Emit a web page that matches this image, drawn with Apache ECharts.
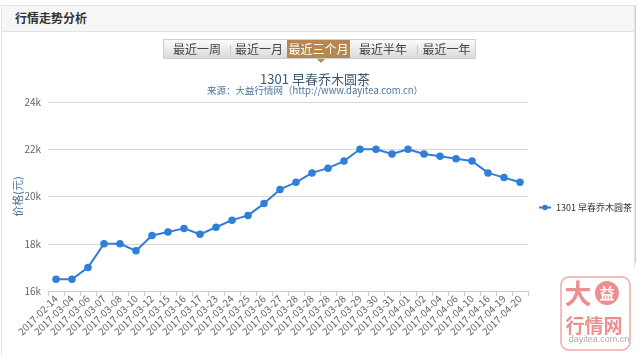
<!DOCTYPE html>
<html>
<head>
<meta charset="utf-8">
<script src="https://cdn.jsdelivr.net/npm/echarts@6/dist/echarts.min.js"></script>
<style>
html,body{margin:0;padding:0;background:#fff;width:640px;height:356px;overflow:hidden;font-family:"Noto Sans CJK SC","Noto Sans",sans-serif;}
#card{position:absolute;left:1px;top:5px;width:634px;height:360px;border:1px solid #e3e3e3;border-bottom:none;box-sizing:border-box;}
#head{position:absolute;left:0;top:0;right:0;height:25px;background:#f6f6f6;border-bottom:1px solid #e3e3e3;}
#head span{position:absolute;left:13px;top:4px;font-size:12px;font-weight:bold;color:#333;line-height:16px;}
#chart{position:absolute;left:0;top:0;width:640px;height:356px;}
#btns{position:absolute;left:163px;top:39px;width:313px;height:20px;border:1px solid #cfcfcf;box-sizing:border-box;background:linear-gradient(#fbfbfb,#dadada);}
.b{position:absolute;top:0;height:18px;line-height:18px;font-size:12px;color:#444;text-align:center;}
.sel{background:#b8874f;color:#fff;}
.sep{position:absolute;top:5px;width:1px;height:10px;background:#c8c8c8;}
#tri{position:absolute;left:317px;top:59px;width:0;height:0;border-left:4px solid transparent;border-right:4px solid transparent;border-top:4px solid #b8874f;}
</style>
</head>
<body>
<div id="card"><div id="head"><span>行情走势分析</span></div></div>
<div id="chart"></div>
<div id="btns">
  <div class="b" style="left:0;width:66px;">最近一周</div>
  <div class="sep" style="left:66px;"></div>
  <div class="b" style="left:67px;width:56px;">最近一月</div>
  <div class="b sel" style="left:123px;width:63px;">最近三个月</div>
  <div class="b" style="left:186px;width:66px;">最近半年</div>
  <div class="sep" style="left:253px;"></div>
  <div class="b" style="left:254px;width:57px;">最近一年</div>
</div>
<div id="tri"></div>
<script>
var categories = ['2017-02-14','2017-03-04','2017-03-06','2017-03-07','2017-03-08','2017-03-10','2017-03-12','2017-03-15','2017-03-16','2017-03-17','2017-03-23','2017-03-24','2017-03-25','2017-03-26','2017-03-27','2017-03-28','2017-03-28','2017-03-28','2017-03-28','2017-03-29','2017-03-30','2017-03-31','2017-04-01','2017-04-02','2017-04-04','2017-04-06','2017-04-10','2017-04-16','2017-04-19','2017-04-20'];
var prices = [16500,16500,17000,18000,18000,17700,18350,18500,18650,18400,18700,19000,19200,19700,20300,20600,21000,21200,21500,22000,22000,21800,22000,21800,21700,21600,21500,21000,20800,20600];
var seriesName = '1301 早春乔木圆茶';
var yTicks = [16000,18000,20000,22000,24000];

var chart = echarts.init(document.getElementById('chart'), null, {renderer:'canvas'});
var font = '"Noto Sans CJK SC","Noto Sans",sans-serif';
chart.setOption({
  animation:false,
  textStyle:{fontFamily:font},
  title:{
    text:seriesName,
    subtext:'来源：大益行情网（http://www.dayitea.com.cn）',
    left:310, top:68, textAlign:'center', itemGap:0,
    textStyle:{fontSize:13,fontWeight:'normal',color:'#3e576f',fontFamily:font},
    subtextStyle:{fontSize:9.5,color:'#4d759e',fontFamily:font}
  },
  legend:{
    orient:'vertical', left:533, top:198,
    itemWidth:12, itemHeight:7, itemGap:5,
    textStyle:{fontSize:9,color:'#333',fontFamily:font,overflow:'none'},
    data:[seriesName]
  },
  grid:{left:48,right:112,top:102,bottom:65,containLabel:false,outerBoundsMode:'none'},
  xAxis:{
    type:'category', data:categories, boundaryGap:true,
    axisLine:{lineStyle:{color:'#c0d0e0'}},
    axisTick:{show:true,length:5,lineStyle:{color:'#c0d0e0'}},
    axisLabel:{rotate:45,interval:0,fontSize:10,color:'#666',margin:6,fontFamily:font}
  },
  yAxis:{
    type:'value', min:yTicks[0], max:yTicks[yTicks.length-1], interval:2000,
    name:'价格(元)', nameLocation:'middle', nameGap:25, nameMoveOverlap:false,
    nameTextStyle:{color:'#4d759e',fontSize:11,fontFamily:font},
    axisLine:{show:false}, axisTick:{show:false},
    axisLabel:{fontSize:10,color:'#666',margin:7,formatter:function(v){return (v/1000)+'k';}},
    splitLine:{lineStyle:{color:'#d8d8d8',width:1}}
  },
  series:[{
    name:seriesName, type:'line', data:prices,
    symbol:'circle', symbolSize:7.5, showSymbol:true,
    itemStyle:{color:'#2f7ed8'},
    lineStyle:{color:'#2f7ed8',width:2}
  }],
  graphic:[
    {type:'rect',shape:{x:555,y:268,width:85,height:88},style:{fill:'#fff'},z:50},
    {type:'rect',shape:{x:561,y:277,width:69,height:73,r:8},style:{fill:'#fff',stroke:'#f0a8a8',lineWidth:1.5},z:51},
    {type:'text',style:{text:'大',x:578,y:294,fill:'#ee8f8f',align:'center',verticalAlign:'middle',font:'bold 27px "Noto Sans CJK SC"'},z:52},
    {type:'circle',shape:{cx:607,cy:293,r:12},style:{fill:'#ee8f8f'},z:52},
    {type:'text',style:{text:'益',x:607,y:293,fill:'#fff',align:'center',verticalAlign:'middle',font:'bold 15px "Noto Sans CJK SC"'},z:53},
    {type:'text',style:{text:'行情网',x:594,y:326,fill:'#ee8f8f',align:'center',verticalAlign:'middle',font:'bold 19px "Noto Sans CJK SC"'},z:52},
    {type:'text',style:{text:'dayitea.com.cn',x:599,y:340,fill:'#aaa',align:'center',verticalAlign:'middle',font:'9px "Liberation Sans"'},z:53},
    {type:'rect',shape:{x:635,y:5,width:1,height:258},style:{fill:'#d0d0d0'},z:40}
  ]
});
</script>
</body>
</html>
